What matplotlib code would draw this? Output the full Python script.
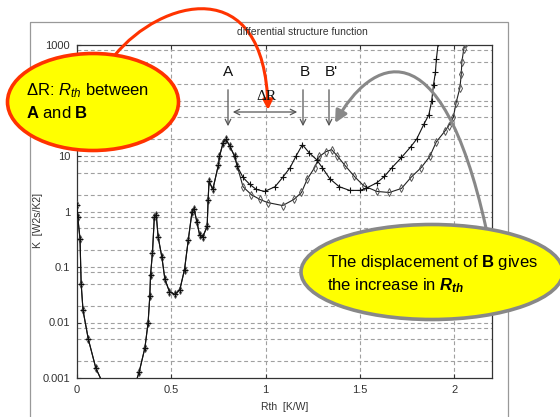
import matplotlib
matplotlib.use("Agg")
import numpy as np
import matplotlib.pyplot as plt
from matplotlib.patches import Ellipse, FancyArrowPatch, Rectangle
from matplotlib.path import Path

plt.rcParams['font.family'] = ['Liberation Sans', 'DejaVu Sans']
plt.rcParams['mathtext.fontset'] = 'custom'
plt.rcParams['mathtext.rm'] = 'Liberation Sans'
plt.rcParams['mathtext.it'] = 'Liberation Sans:italic'
plt.rcParams['mathtext.bf'] = 'Liberation Sans:bold'
plt.rcParams['mathtext.bfit'] = 'Liberation Sans:italic:bold'

# shared part of both structure functions (before the die attach layer)
common_rth = [0.0, 0.004, 0.016, 0.022, 0.032, 0.06, 0.10, 0.145,
              0.305, 0.33, 0.36, 0.377, 0.386, 0.39, 0.40, 0.41, 0.42, 0.43,
              0.45, 0.466, 0.49, 0.52, 0.545, 0.57, 0.59, 0.61, 0.62, 0.635,
              0.65, 0.667, 0.69, 0.695, 0.70, 0.72, 0.75, 0.755, 0.775, 0.79,
              0.81, 0.835, 0.85]
common_k = [1.3, 0.8, 0.32, 0.05, 0.0165, 0.005, 0.0015, 0.0007,
            0.0007, 0.0013, 0.0035, 0.01, 0.03, 0.073, 0.18, 0.8, 0.88, 0.35,
            0.15, 0.06, 0.036, 0.032, 0.039, 0.09, 0.31, 1.0, 1.13, 0.66,
            0.38, 0.35, 0.54, 1.6, 3.5, 2.5, 7.0, 9.8, 17.5, 20.0,
            15.0, 10.0, 6.5]

# good sample (peak B)
b_rth = [0.88, 0.915, 0.95, 0.995, 1.05, 1.09, 1.13, 1.16, 1.195, 1.23,
         1.27, 1.30, 1.34, 1.39, 1.445, 1.50, 1.53, 1.59, 1.63, 1.67, 1.72,
         1.77, 1.80, 1.84, 1.865, 1.88, 1.89, 1.90, 1.905, 1.915]
b_k = [4.1, 3.1, 2.5, 2.3, 2.8, 4.1, 6.2, 9.8, 16.0, 11.5,
       8.6, 6.2, 3.9, 2.8, 2.4, 2.4, 2.6, 3.3, 4.3, 6.2, 9.4,
       14.8, 20.0, 38.0, 55.0, 97.0, 194.0, 320.0, 550.0, 1100.0]

# degraded sample (peak B')
bp_rth = [0.88, 0.925, 0.97, 1.01, 1.09, 1.15, 1.19, 1.22, 1.26, 1.285,
          1.32, 1.35, 1.38, 1.42, 1.47, 1.52, 1.59, 1.655, 1.72, 1.77,
          1.825, 1.87, 1.905, 1.95, 1.97, 1.995, 2.01, 2.03, 2.037, 2.04,
          2.05, 2.06]
bp_k = [2.8, 2.0, 1.65, 1.45, 1.28, 1.65, 2.2, 3.8, 6.2, 9.8,
        12.0, 13.0, 10.0, 6.8, 4.3, 2.9, 2.3, 2.2, 2.6, 4.1,
        6.2, 9.8, 18.0, 28.0, 35.0, 50.0, 92.0, 170.0, 295.0, 490.0,
        830.0, 1100.0]

x_ticks = [0, 0.5, 1, 1.5, 2]
x_tick_labels = ['0', '0.5', '1', '1.5', '2']
y_ticks = [0.001, 0.01, 0.1, 1, 10, 1000]
y_tick_labels = ['0.001', '0.01', '0.1', '1', '10', '1000']

W, H = 560, 417
fig = plt.figure(figsize=(W / 100, H / 100), dpi=100)
fig.patch.set_facecolor('white')

ax = fig.add_axes([77 / W, 1 - 378 / H, (492 - 77) / W, (378 - 45) / H])
ax.set_yscale('log')
ax.set_xlim(0, 2.2)
ax.set_ylim(0.001, 1000)

# grid: every decade plus 2, 5, 8 within it
grid_kw = dict(color='#a0a0a0', lw=0.8, ls=(0, (3.5, 2.5)), zorder=0)
for d in range(-3, 3):
    for m in (1, 2, 5, 8):
        if m * 10.0 ** d > 0.001:
            ax.axhline(m * 10.0 ** d, **grid_kw)
for xt in x_ticks[1:]:
    ax.axvline(xt, **grid_kw)

x_bp = np.array(common_rth + bp_rth)
k_bp = np.array(common_k + bp_k)
x_b = np.array(common_rth + b_rth)
k_b = np.array(common_k + b_k)

ax.plot(x_bp, k_bp, color='#222222', lw=0.8, marker='d', ms=3.6,
        mfc='none', mec='#555555', mew=0.7, zorder=3)
ax.plot(x_b, k_b, color='#111111', lw=0.8, marker='+', ms=4.8,
        mec='#111111', mew=0.8, zorder=4)

ax.set_xticks(x_ticks)
ax.set_xticklabels(x_tick_labels)
ax.set_yticks(y_ticks)
ax.set_yticklabels(y_tick_labels)
ax.yaxis.set_minor_locator(matplotlib.ticker.NullLocator())
ax.tick_params(direction='in', length=3, labelsize=8, colors='#333333',
               top=True, pad=5)
for s in ax.spines.values():
    s.set_color('#333333')
    s.set_linewidth(0.9)

# overlay in pixel coordinates for the frame, labels and callouts
ov = fig.add_axes([0, 0, 1, 1], zorder=10)
ov.set_xlim(0, W)
ov.set_ylim(H, 0)
ov.axis('off')
ov.patch.set_alpha(0)

ov.add_patch(Rectangle((30, 22), 478, 420, fill=False, ec='#999999', lw=0.9,
                       clip_on=False))
ov.text(302, 35, 'differential structure function', fontsize=7.5,
        color='#333333', ha='center', va='baseline')
ov.text(38, 220, 'K  [W2s/K2]', fontsize=7.5, color='#333333', rotation=90,
        ha='center', va='center')
ov.text(285, 407, 'Rth  [K/W]', fontsize=7.5, color='#333333',
        ha='center', va='center')

# peak markers A, B, B'
gray = '#555555'
for lx, label, x0 in [(228, 'A', 228), (305, 'B', 303), (331, "B'", 329)]:
    ov.text(lx, 76, label, fontsize=11, ha='center', va='baseline', color='#111111')
    ov.add_patch(FancyArrowPatch((x0, 87), (x0, 129), arrowstyle='->',
                                 mutation_scale=10, color=gray, lw=0.9))
ov.add_patch(FancyArrowPatch((230, 112), (300, 112), arrowstyle='<->',
                             mutation_scale=10, color=gray, lw=0.9))
ov.text(266, 100, r'ΔR', fontsize=11, family='Liberation Serif',
        ha='center', va='baseline', color='#111111')

# red callout arrow
red = '#ff3300'
red_path = Path([(115, 55), (160, 0), (265, -30), (268, 110)],
                [Path.MOVETO, Path.CURVE4, Path.CURVE4, Path.CURVE4])
ov.add_patch(FancyArrowPatch(path=red_path, arrowstyle='-|>', mutation_scale=14,
                             color=red, lw=2.2))

# gray callout arrow
gray_path = Path([(486, 228), (440, 20), (370, 60), (335, 123)],
                 [Path.MOVETO, Path.CURVE4, Path.CURVE4, Path.CURVE4])
ov.add_patch(FancyArrowPatch(path=gray_path, arrowstyle='-|>', mutation_scale=18,
                             color='#888888', lw=2.2))

ov.add_patch(Ellipse((93, 102), 171, 97, fc='#ffff00', ec=red, lw=2.6))
ov.text(26, 95, r'ΔR: $R_{th}$ between', fontsize=12, va='baseline')
ov.text(26, 118, r'$\mathbf{A}$ and $\mathbf{B}$', fontsize=12, va='baseline')

ov.add_patch(Ellipse((432, 272), 262, 95, fc='#ffff00', ec='#888888', lw=2.6,
                     clip_on=False))
ov.text(327, 267, r'The displacement of $\mathbf{B}$ gives', fontsize=12,
        va='baseline')
ov.text(327, 290, r'the increase in $\mathbfit{R_{th}}$', fontsize=12,
        va='baseline')

fig.savefig('out.png', dpi=100)
